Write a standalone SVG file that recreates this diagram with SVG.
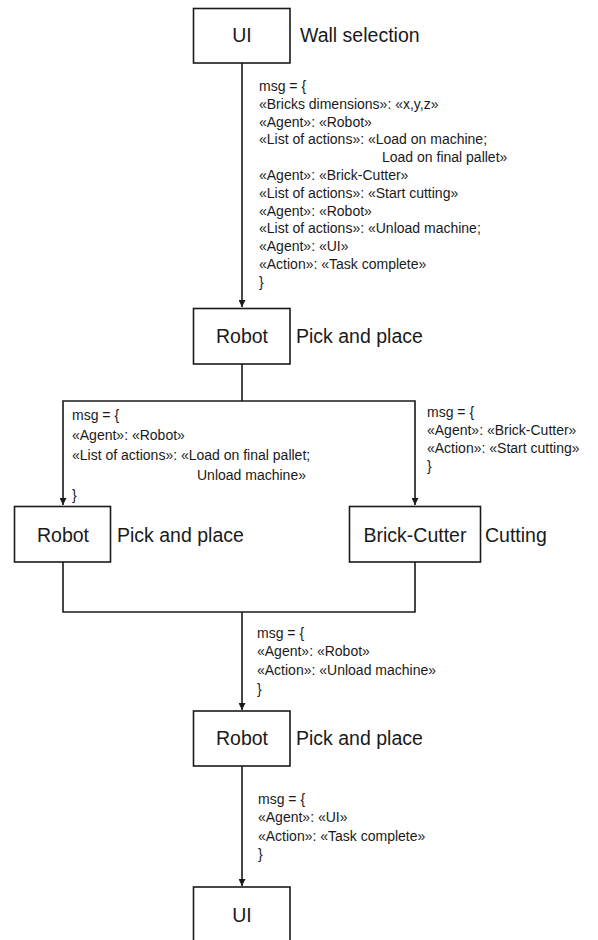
<svg xmlns="http://www.w3.org/2000/svg" width="598" height="940" viewBox="0 0 598 940">
<style>
.box{fill:#fff;stroke:#1a1a1a;stroke-width:1.6}
.lbl{font-family:"Liberation Sans",Arial,sans-serif;font-size:19.5px;fill:#1a1a1a}
.c{text-anchor:middle}
.msg{font-family:"Liberation Sans",Arial,sans-serif;font-size:14px;fill:#1a1a1a}
.ln{fill:none;stroke:#1a1a1a;stroke-width:1.6}
</style>
<defs>
<marker id="arr" viewBox="0 0 10 10" refX="10" refY="5" markerWidth="7" markerHeight="7" markerUnits="userSpaceOnUse" orient="auto">
<path d="M0,0 L10,5 L0,10 z" fill="#1a1a1a"/>
</marker>
</defs>
<rect width="598" height="940" fill="#fff"/>
<g id="connectors">
<path class="ln" d="M242,63 V307" marker-end="url(#arr)"/>
<path class="ln" d="M242,364 V401"/>
<path class="ln" d="M242,401 H63 V505" marker-end="url(#arr)"/>
<path class="ln" d="M242,401 H415 V505" marker-end="url(#arr)"/>
<path class="ln" d="M63,562 V612 H415 V562"/>
<path class="ln" d="M242,612 V710" marker-end="url(#arr)"/>
<path class="ln" d="M242,766 V886" marker-end="url(#arr)"/>
</g>
<g id="msg1" class="msg">
<text x="259" y="91">msg = {</text>
<text x="259" y="108.8">«Bricks dimensions»: «x,y,z»</text>
<text x="259" y="126.6">«Agent»: «Robot»</text>
<text x="259" y="144.4">«List of actions»: «Load on machine;</text>
<text x="382" y="162.2">Load on final pallet»</text>
<text x="259" y="180">«Agent»: «Brick-Cutter»</text>
<text x="259" y="197.8">«List of actions»: «Start cutting»</text>
<text x="259" y="215.6">«Agent»: «Robot»</text>
<text x="259" y="233.4">«List of actions»: «Unload machine;</text>
<text x="259" y="251.2">«Agent»: «UI»</text>
<text x="259" y="269">«Action»: «Task complete»</text>
<text x="259" y="287">}</text>
</g>
<g id="msg2" class="msg">
<text x="72" y="420">msg = {</text>
<text x="72" y="440">«Agent»: «Robot»</text>
<text x="72" y="460">«List of actions»: «Load on final pallet;</text>
<text x="197" y="480">Unload machine»</text>
<text x="72" y="499.5">}</text>
</g>
<g id="msg3" class="msg">
<text x="427" y="416.5">msg = {</text>
<text x="427" y="434.7">«Agent»: «Brick-Cutter»</text>
<text x="427" y="452.9">«Action»: «Start cutting»</text>
<text x="427" y="471">}</text>
</g>
<g id="msg4" class="msg">
<text x="257" y="637.5">msg = {</text>
<text x="257" y="656.3">«Agent»: «Robot»</text>
<text x="257" y="675.1">«Action»: «Unload machine»</text>
<text x="257" y="694">}</text>
</g>
<g id="msg5" class="msg">
<text x="258" y="803.5">msg = {</text>
<text x="258" y="822">«Agent»: «UI»</text>
<text x="258" y="840.5">«Action»: «Task complete»</text>
<text x="258" y="859">}</text>
</g>
<g id="ui-top">
<rect class="box" x="193.5" y="8.5" width="96.5" height="54.5"/>
<text class="lbl c" x="242" y="42">UI</text>
<text class="lbl" x="300" y="42">Wall selection</text>
</g>
<g id="robot-1">
<rect class="box" x="193.5" y="308.5" width="96.5" height="55.5"/>
<text class="lbl c" x="242" y="343">Robot</text>
<text class="lbl" x="296" y="343">Pick and place</text>
</g>
<g id="robot-2">
<rect class="box" x="14.5" y="506.5" width="96" height="55.5"/>
<text class="lbl c" x="63" y="542">Robot</text>
<text class="lbl" x="117" y="542">Pick and place</text>
</g>
<g id="brick-cutter">
<rect class="box" x="349.5" y="506.5" width="131" height="55.5"/>
<text class="lbl c" x="415" y="542">Brick-Cutter</text>
<text class="lbl" x="485" y="542">Cutting</text>
</g>
<g id="robot-3">
<rect class="box" x="193.5" y="711" width="96.5" height="55"/>
<text class="lbl c" x="242" y="745">Robot</text>
<text class="lbl" x="296" y="745">Pick and place</text>
</g>
<g id="ui-bottom">
<rect class="box" x="193.5" y="887" width="96.5" height="60"/>
<text class="lbl c" x="242" y="922">UI</text>
</g>
</svg>
